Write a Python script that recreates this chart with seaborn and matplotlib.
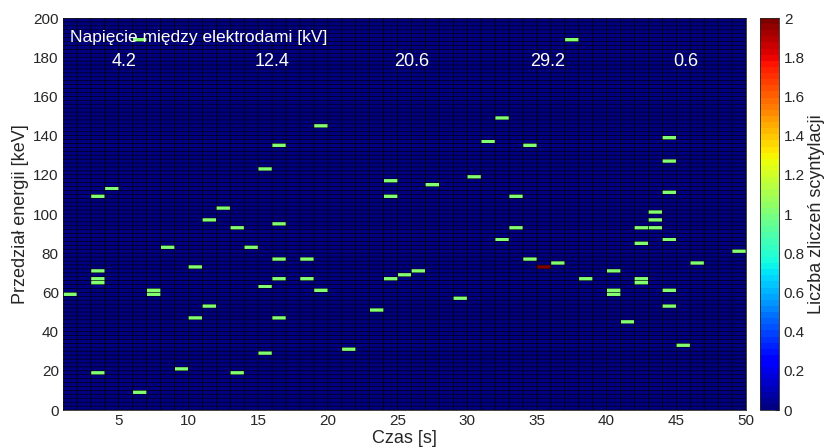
import numpy as np
import pandas as pd
import matplotlib
matplotlib.use("Agg")
import matplotlib.pyplot as plt
from matplotlib.colors import ListedColormap
import seaborn as sns

# Time axis: 1 s bins from 1 s to 50 s; energy axis: 2 keV bins from 0 to 200 keV
time_start, time_stop = 1, 50
energy_step, energy_max = 2, 200

# Recorded scintillations: bin start time [s], bin lower energy edge [keV], count
event_time = [6, 4, 3, 12, 15, 16,
              19, 24, 24, 27, 30, 31, 32, 33,
              37, 34, 44, 44, 44, 43,
              11, 13, 16, 8, 14, 16, 10, 3, 3, 3, 16, 15, 7, 7, 1, 11, 10, 16, 15, 9, 3, 13, 6,
              18, 18, 19, 21, 23, 24, 25, 26, 29, 32, 33,
              43, 42, 43, 44, 42, 49, 34, 35, 36, 46, 40, 38, 42, 42, 40, 40, 44, 44, 41, 45]
event_energy = [188, 112, 108, 102, 122, 134,
                144, 116, 108, 114, 118, 136, 148, 108,
                188, 134, 138, 126, 110, 100,
                96, 92, 94, 82, 82, 76, 72, 70, 66, 64, 66, 62, 60, 58, 58, 52, 46, 46, 28, 20, 18, 18, 8,
                76, 66, 60, 30, 50, 66, 68, 70, 56, 86, 92,
                96, 92, 92, 86, 84, 80, 76, 72, 74, 74, 70, 66, 66, 64, 60, 58, 60, 52, 44, 32]
event_count = [1] * 61 + [2] + [1] * 12

# Electrode voltage annotations [kV] and the times they are centred on [s]
voltage_labels = ["4.2", "12.4", "20.6", "29.2", "0.6"]
voltage_times = [5.4, 16.0, 26.0, 35.8, 45.7]

x_ticks = [5, 10, 15, 20, 25, 30, 35, 40, 45, 50]
y_ticks = [0, 20, 40, 60, 80, 100, 120, 140, 160, 180, 200]
cbar_ticks = [0, 0.2, 0.4, 0.6, 0.8, 1, 1.2, 1.4, 1.6, 1.8, 2]

# Build the time x energy count matrix
times = list(range(time_start, time_stop))
energies = list(range(0, energy_max, energy_step))
counts = pd.DataFrame(0.0, index=energies, columns=times)
for t, e, c in zip(event_time, event_energy, event_count):
    counts.loc[e, t] = c

sns.set_style("white")
plt.rcParams["font.family"] = ["Liberation Sans", "DejaVu Sans"]
text_color = "#262626"

fig = plt.figure(figsize=(8.28, 4.48), dpi=100)
ax = fig.add_axes([63 / 828, 38 / 448, 683 / 828, 392 / 448])
cax = fig.add_axes([760 / 828, 38 / 448, 19 / 828, 392 / 448])

jet64 = ListedColormap(plt.get_cmap("jet")(np.linspace(0, 1, 64)))

sns.heatmap(counts, ax=ax, cmap=jet64, vmin=0, vmax=2, linewidths=0,
            cbar_ax=cax, xticklabels=False, yticklabels=False)
ax.invert_yaxis()

# Faceted cell borders, one line per bin boundary
n_rows, n_cols = counts.shape
hl = ax.hlines(np.arange(n_rows + 1), 0, n_cols, colors="black", linewidth=0.5, alpha=0.9, zorder=3)
vl = ax.vlines(np.arange(n_cols + 1), 0, n_rows, colors="black", linewidth=0.5, alpha=0.9, zorder=3)
for lc in (hl, vl):
    lc.set_snap(False)
    lc.set_antialiased(True)

# Map physical units onto heatmap cell positions
ax.set_xticks([t - time_start for t in x_ticks])
ax.set_xticklabels([str(t) for t in x_ticks], fontsize=11, color=text_color)
ax.set_yticks([e / energy_step for e in y_ticks])
ax.set_yticklabels([str(e) for e in y_ticks], fontsize=11, color=text_color, rotation=0)
ax.tick_params(axis="both", direction="in", length=3, pad=3)
ax.set_xlabel("Czas [s]", fontsize=13, color=text_color, labelpad=1)
ax.set_ylabel("Przedział energii [keV]", fontsize=13, color=text_color, labelpad=3)
for side in ax.spines.values():
    side.set_visible(True)
    side.set_color("#262626")
    side.set_linewidth(0.6)

ax.text(1.48 - time_start, 190.3 / energy_step, "Napięcie między elektrodami [kV]",
        color="white", fontsize=12.5, ha="left", va="center", zorder=5)
for lab, t in zip(voltage_labels, voltage_times):
    ax.text(t - time_start, 177.6 / energy_step, lab, color="white",
            fontsize=13, ha="center", va="center", zorder=5)

cbar = ax.collections[0].colorbar
cbar.set_ticks(cbar_ticks)
cbar.set_ticklabels([f"{v:g}" for v in cbar_ticks])
cbar.ax.tick_params(labelsize=11, colors=text_color, direction="in", length=3)
cbar.set_label("Liczba zliczeń scyntylacji", fontsize=13, color=text_color, labelpad=2)
cbar.outline.set_visible(True)
cbar.outline.set_edgecolor("#262626")
cbar.outline.set_linewidth(0.6)

fig.savefig("out.png", dpi=100)
